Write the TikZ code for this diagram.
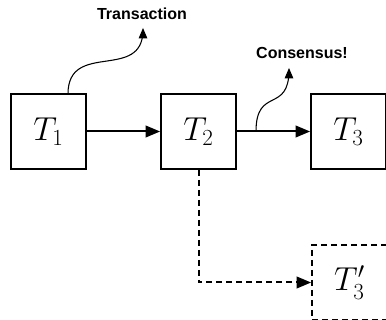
\documentclass[tikz,border=0pt]{standalone}
\usepackage{amsmath, amssymb}
\usepackage{fontspec}
\newfontfamily\lblfont{Liberation Sans}
\usepackage{tikz}
\usetikzlibrary{arrows}
\tikzstyle{block} = [draw, line width=1.5pt, minimum size=56.25pt, inner sep=0pt, font=\fontsize{25}{30}\selectfont]
\tikzstyle{arrow} = [line width=1.5pt,->,>=triangle 45]
\tikzstyle{forkline} = [dash pattern=on 4.5pt off 3pt]
\tikzstyle{note} = [font=\lblfont\bfseries\fontsize{12}{14}\selectfont]

\begin{document}
\begin{tikzpicture}[line cap=butt,line join=miter,x=0.75pt,y=-0.75pt]
                \useasboundingbox (0,0) rectangle (386,320);
                \clip (0,0) rectangle (386,320);
                \node[block] (T1) at (48.5,131.5) {$T_1$};
                \node[block] (T2) at (198.5,131.5) {$T_2$};
                \node[block] (T3) at (348.5,131.5) {$T_3$};
                \node[block, forkline] (T3p) at (349.5,282.5) {$T_3'$};
                \node[note] (trans) at (142,14) {Transaction};
                \node[note] (cons) at (302,53) {Consensus!};
                \coordinate (transfoot) at (68,94);
                \coordinate (transtip) at (143,28);
                \coordinate (consfoot) at (256,131.5);
                \coordinate (constip) at (289,68);
                \draw [arrow] (T1) -- (T2);
                \draw [arrow] (T2) -- (T3);
                \draw [arrow, forkline] (T2.south) |- (T3p.west);
                \draw [->,>=triangle 45,line width=0.8pt] (transfoot) .. controls (68,40) and (143,82) .. (transtip);
                \draw [->,>=triangle 45,line width=0.8pt] (consfoot) .. controls (256,86) and (289,114) .. (constip);
            \end{tikzpicture}
\end{document}
